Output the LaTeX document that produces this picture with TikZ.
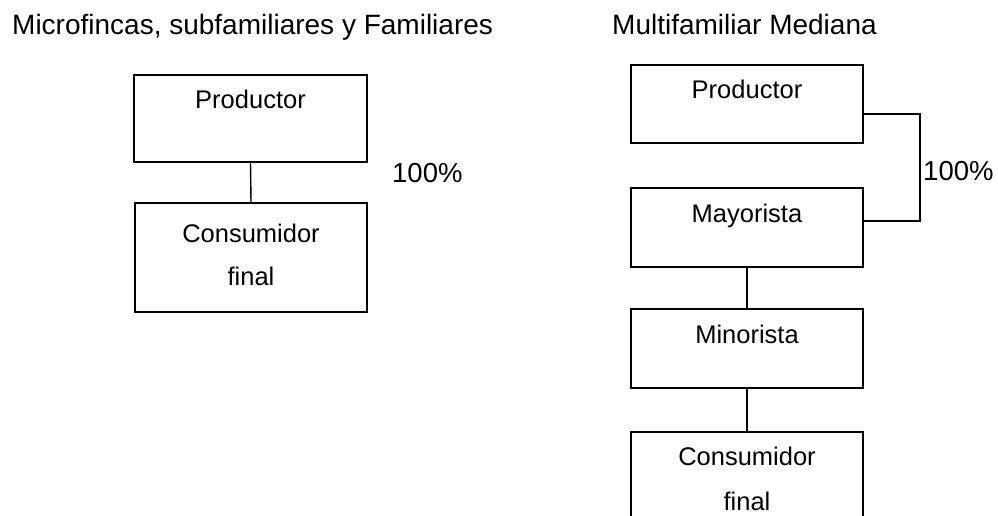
\documentclass[tikz,border=0pt]{standalone}
\usepackage{fontspec}
\setmainfont{Liberation Sans}
\begin{document}
\begin{tikzpicture}[x=1pt,y=-1pt,
  box/.style={draw, line width=1.4pt, rectangle, inner sep=0pt, outer sep=0pt},
  txt/.style={anchor=base, inner sep=0pt, font=\fontsize{25.5}{30}\selectfont},
  ttl/.style={anchor=base west, inner sep=0pt, font=\fontsize{28}{32}\selectfont},
  pct/.style={anchor=base west, inner sep=0pt, font=\fontsize{27.5}{32}\selectfont},
  conn/.style={line width=1.4pt}]
\path[use as bounding box] (0,0) rectangle (998,516);
\clip (0,0) rectangle (998,516);
% titles
\node[ttl] (t1) at (12,35) {Microfincas, subfamiliares y Familiares};
\node[ttl] (t2) at (612,35) {Multifamiliar Mediana};
% left column
\node[box, minimum width=233pt, minimum height=87pt] (lp) at (250.5,118.5) {};
\node[box, minimum width=232pt, minimum height=109pt] (lc) at (251,257.5) {};
\node[txt] (lpt) at (250.5,109) {Productor};
\node[txt] (lct1) at (251,242) {Consumidor};
\node[txt] (lct2) at (251,285) {final};
\draw[conn] (lp.south) -- (lc.north);
\node[pct] (lpc) at (392,182) {100\%};
% right column
\node[box, minimum width=232pt, minimum height=78pt] (rp) at (747,104) {};
\node[box, minimum width=232pt, minimum height=79pt] (rm) at (747,227.5) {};
\node[box, minimum width=232pt, minimum height=79pt] (rn) at (747,348.5) {};
\node[box, minimum width=232pt, minimum height=110pt] (rc) at (747,487) {};
\node[txt] (rpt) at (747,99) {Productor};
\node[txt] (rmt) at (747,222) {Mayorista};
\node[txt] (rnt) at (747,343) {Minorista};
\node[txt] (rct1) at (747,465) {Consumidor};
\node[txt] (rct2) at (747,510) {final};
\draw[conn] (rm.south) -- (rn.north);
\draw[conn] (rn.south) -- (rc.north);
\coordinate (ka) at (920,114);
\coordinate (kb) at (920,221);
\draw[conn] (rp.east |- ka) -- (ka) -- (kb) -- (rm.east |- kb);
\node[pct] (rpc) at (923,180) {100\%};
\end{tikzpicture}
\end{document}
